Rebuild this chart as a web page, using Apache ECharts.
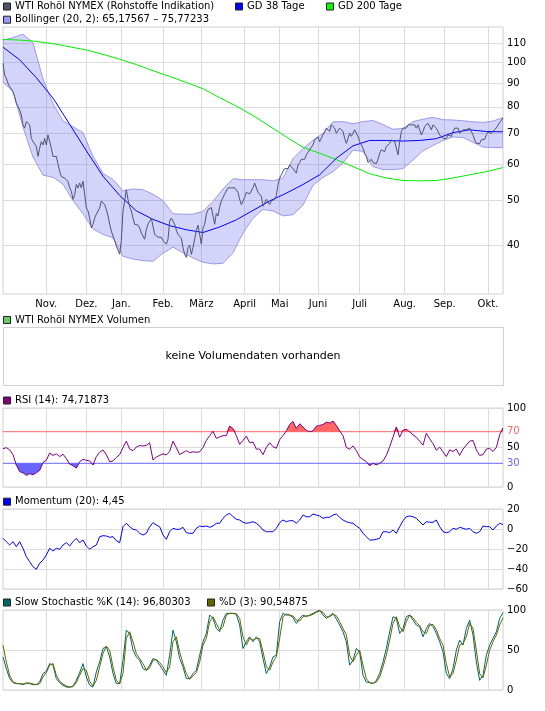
<!DOCTYPE html>
<html><head><meta charset="utf-8">
<script src="https://cdn.jsdelivr.net/npm/echarts@6/dist/echarts.min.js"></script>
<style>html,body{margin:0;padding:0;background:#fff}#c{width:545px;height:711px}</style>
</head><body><div id="c"></div>
<script>
// ---- data (x = trading-day index 0..300) ----
const monthNames = ["Nov.","Dez.","Jan.","Feb.","März","April","Mai","Juni","Juli","Aug.","Sep.","Okt."];
const monthStartDays = [26,50,71,96,119,145,166,189,214,241,265,291];
const priceTicks = [40,50,60,70,80,90,100,110];
const rsiTicks = [0,30,50,70,100];
const rsiLevels = [70,30];

// daily price (index 0..300)
const price = [
99.5,93.9,92.4,90.0,88.5,87.5,86.3,84.2,81.5,80.8,
78.8,76.8,73.1,71.9,74.3,74.9,73.1,68.3,67.2,67.8,
65.6,62.4,65.0,67.2,66.1,68.3,66.1,69.5,69.5,65.0,
62.4,61.9,62.4,61.9,57.9,56.4,56.9,56.0,55.5,55.0,
53.3,52.4,50.3,51.5,54.2,53.3,54.6,53.3,55.1,54.6,
48.2,47.5,45.8,43.6,44.4,45.8,46.7,46.3,48.2,49.9,
50.3,49.0,47.8,46.3,44.4,42.9,42.5,40.9,39.8,40.0,
38.2,40.9,47.5,49.9,52.8,50.3,48.5,47.5,45.8,44.4,
44.7,44.2,43.6,42.5,42.2,41.2,43.3,44.4,45.1,45.8,
45.5,42.2,42.5,41.6,41.8,41.6,40.9,40.6,40.2,41.2,
45.1,45.8,46.0,44.4,43.1,42.2,42.0,41.4,39.5,38.2,
37.6,39.5,40.0,38.2,39.5,41.2,43.0,44.2,44.4,40.2,
43.6,44.4,46.7,47.8,48.2,48.3,46.3,44.4,46.9,46.3,
48.5,49.9,50.8,51.7,52.1,53.3,53.7,53.3,53.7,53.3,
53.7,52.1,50.3,49.0,48.6,50.8,52.1,52.4,51.7,52.1,
53.3,54.6,55.0,52.1,51.7,51.1,48.6,48.2,50.3,50.8,
49.0,49.9,49.5,50.3,51.3,54.2,56.0,56.9,57.9,58.7,
59.0,58.7,59.8,59.3,58.7,58.4,57.4,59.8,60.5,61.5,
61.0,61.5,62.9,63.4,64.5,65.0,66.1,67.8,68.3,68.8,
67.2,67.8,69.5,70.0,71.9,72.5,70.7,73.1,73.3,71.9,
70.1,70.7,71.9,72.5,70.7,68.3,66.6,68.3,70.1,69.0,
70.1,71.3,70.7,69.0,67.2,66.1,65.0,63.4,62.4,60.5,
61.0,61.5,60.5,60.0,60.2,61.5,63.4,64.5,65.0,63.9,
65.6,66.1,66.6,67.8,68.3,67.2,67.8,62.9,67.2,70.7,
71.9,71.3,71.9,73.1,73.7,73.1,72.5,73.1,71.9,73.1,
71.3,69.5,70.7,72.5,73.1,73.7,73.1,71.3,73.1,73.7,
71.9,70.7,69.5,69.0,68.3,68.0,68.3,69.5,70.0,69.0,
70.7,71.9,72.5,71.9,70.1,70.7,71.3,70.7,71.3,70.7,
71.9,71.3,69.5,67.8,66.6,67.2,66.6,67.8,67.2,68.0,
69.5,70.5,70.4,70.0,70.8,71.2,72.0,73.0,74.0,74.8,
75.7];

// moving averages, one value every 10 days
const maStep = 10;
const gd38 = [107.9,101.3,92.6,83.6,73.3,64.2,56.5,51.3,47.5,45.5,44.1,43.2,42.6,43.8,45.4,47.6,49.9,51.9,54.2,56.9,61.8,65.8,67.6,67.6,67.4,67.6,68.2,70.3,71.3,70.7,70.6];
const gd200 = [112.2,111.8,111.1,109.8,108.1,106.4,104.1,101.6,98.9,95.9,93.2,90.4,87.6,83.8,80.3,76.6,72.6,68.8,65.3,63.4,61.4,59.3,57.2,56.0,55.3,55.2,55.3,56.0,56.9,57.8,59.0];

// Bollinger bands, one value every 6 days
const bollStep = 6;
const bollUpper = [
111.8,113.2,115.2,110.3,92.0,81.3,74.5,72.4,70.3,62.4,
57.3,55.6,52.5,53.0,52.8,51.6,50.0,46.8,46.7,46.7,
47.4,49.8,53.0,55.8,55.5,55.5,55.5,55.2,56.0,61.7,
64.9,67.7,70.0,74.2,74.3,73.5,74.3,74.7,73.2,71.5,
71.8,74.3,75.2,75.9,75.0,74.9,74.6,74.2,74.0,74.5,
75.8];
const bollLower = [
90.6,86.4,72.3,62.2,56.8,56.2,54.3,50.0,46.8,43.4,
42.2,41.5,37.8,37.3,37.0,36.9,38.4,39.6,38.5,37.5,
36.7,36.4,36.5,38.5,42.5,45.8,47.8,47.5,46.3,46.6,
48.9,54.0,56.2,57.8,60.4,64.4,64.0,59.3,58.4,58.4,
58.7,61.3,64.2,65.9,67.6,68.8,68.6,67.0,65.4,65.2,
65.2];

// indicators, one value every 2 days
const indStep = 2;
const rsi = [
48.5,49.8,47,41,28,19.5,18,14.8,16.9,15.6,
18,21,31,33.8,43,40,42,38.5,41.5,36,
29,27,24,32,35,33.8,33,28,38.5,44,
47,41,32,33,37.5,41,50,58,48,46,
50.6,52.5,51.9,52.7,56,34,38,40,42,40.5,
45,58,50,41,43.5,46,43.5,44.5,44,44.5,
50,59,65,70.5,61.5,63.5,65,65,77.2,74,
65,54,59,64.5,56,57,48,48,41,50,
56,51,49,60,65,71,79,83,74,80,
76,71.7,70,71,77,78,79,82,81,83.5,
78,71,65,50,48,52,46,38,35,32,
27,30,28,30,33,40,51,63,76,63,
72,73,70,66,63,58,53,68,61,55,
46.5,50.5,44.5,38.5,47,45,48,40,48,53,
58,59,47,40,41,48,49,45,50,66,
74.7];
const momentum = [
-9.3,-12.7,-16,-12.7,-17.7,-12.7,-19.3,-27.7,-32.7,-37.7,
-40.3,-34.3,-31,-26,-19.3,-22,-19.3,-20.3,-16,-13.7,
-17,-12.7,-9.3,-13.7,-11,-17,-20.3,-17.7,-16,-7.7,
-6.7,-7,-8.3,-7.7,-11.7,-13.7,2.3,5.7,2.3,-0.3,
-1,-4.3,-6,-4.3,2.3,6.3,4,2.3,-6,-10.3,
-2.7,0.7,-0.3,-0.3,1.7,-3.7,-4.3,-4.3,0.7,3,
2.3,3,1.7,3,5.7,5.7,10.7,14,15.7,12.3,
9.7,9,6.7,5.7,6.3,7.3,5.7,3,-1,-2.7,
-2.7,-2.7,0.7,6.3,9,7.3,8.3,8.3,5.7,9,
14,12.3,12.3,15,14,13,10.7,11.7,11.7,14,
15,11.7,9,7.3,6.3,5.7,3,0.7,-4.3,-7.7,
-11,-11,-10.3,-9.3,-2.7,-2.7,-3.7,-1,-4.3,2.3,
8.3,12.3,13,12.3,10.7,7.3,4,7.3,6.7,6.7,
9,2.3,-2.7,-3.7,-2.7,0.7,-0.3,1.7,0.7,-0.3,
0.7,-2.7,-4.3,-2.7,3,2.3,2.3,-1,3,5.7,
4.45];
const stochK = [
41.4,26.8,14.2,9.2,7.9,7.9,6.7,9.2,7.9,6.7,
6.7,10,20.5,23.4,33,31,14.2,9.2,5.9,3.8,
3.3,5,12.1,21.8,33,16.3,5.9,3.8,22.6,35.1,
51.9,54,41.4,20.5,7.9,7.9,37.2,74.9,70.7,49.8,
41.4,37.2,26.8,24.7,31,39.3,37.2,31,24.7,18.4,
43.5,74.9,60.3,39.3,28.9,14.2,14.2,20.5,24.7,43.5,
60.3,70.7,93.7,89.5,77,72.8,87.4,95.8,95.8,95.8,
94.6,81.2,51.9,60.3,66.5,60.3,66.5,60.3,39.3,20.5,
28.9,41.4,43.5,85.4,95.8,93.7,93.7,90.4,83.3,89.5,
93.7,91.6,93.7,95.8,97.9,100,93.7,89.5,92.9,95.8,
88.7,81.2,72.8,60.3,31,37.2,51.9,47.7,18.4,10,
9.2,7.9,12.1,20.5,35.1,51.9,72.8,91.6,89.5,70.7,
77,91.6,93.7,87.4,81.2,79.1,66.5,77,83.3,79.1,
70.7,60.3,47.7,20.5,14.2,26.8,49.8,62.3,56.1,77,
87.4,68.6,35.1,12.1,18.4,43.5,56.1,64.4,72.8,89.5,
96.8];
const stochD = [
56,35,18.4,10,8.4,7.9,7.5,7.9,8.8,7.5,
6.7,7.9,16.3,21.8,31,33,18.4,10.9,7.5,5,
3.8,4.2,9.2,18.4,26.8,24.7,10.9,5,12.1,28.9,
45.6,54.8,49.8,28.9,12.1,7.9,20.5,64.4,72.8,60.3,
45.6,39.3,33,24.7,27.6,37.2,38.5,34.3,28.9,21.8,
28.9,60.3,66.5,47.7,33,20.5,13.4,17.6,21.8,35.1,
56.1,64.4,85.4,91.6,83.3,74.9,79.1,93.7,95.8,95.8,
95.4,89.5,66.5,56.1,64.4,62.3,64.4,64.4,47.7,28.9,
24.7,35.1,41.4,64.4,91.6,95,93.7,92.5,87.4,86.2,
91.6,92.9,92.9,94.6,97.1,98.7,97.1,91.6,91.2,94.6,
92.9,85.4,77,68.6,43.5,35.1,43.5,49.8,31,14.2,
9.2,8.4,10,16.3,28.9,43.5,62.3,83.3,91.6,79.1,
72.8,85.4,93.7,90.4,84.5,80.3,72.8,70.7,81.2,82,
74.9,64.4,56.1,33,16.3,20.5,37.2,56.1,58.2,66.5,
83.3,77,49.8,20.5,15.1,31,49.8,60.3,68.6,81.2,
90.5];

// ---- chart ----
const FONT = 'DejaVu Sans';
const GRID_C = '#dcdcdc';
const X_MAX = price.length - 1;
const pairs = (arr, step) => arr.map((v, k) => [k * step, v]);
const chart = echarts.init(document.getElementById('c'), null, {renderer: 'canvas'});

const grids = [
  {left: 3, top: 27, width: 500, height: 267},
  {left: 3, top: 408, width: 500, height: 79},
  {left: 3, top: 509, width: 500, height: 80},
  {left: 3, top: 610, width: 500, height: 80}
].map(g => Object.assign(g, {show: true, borderColor: '#d0d0d0', borderWidth: 1, backgroundColor: '#fff'}));

const xAxes = grids.map((g, i) => ({
  type: 'value', gridIndex: i, min: 0, max: X_MAX,
  axisLine: {show: false},
  axisTick: {show: false, customValues: monthStartDays},
  splitLine: {show: true, lineStyle: {color: GRID_C, width: 1}},
  axisLabel: i === 0 ? {
    show: true, customValues: monthStartDays, margin: 5,
    fontFamily: FONT, fontSize: 10, color: '#000',
    formatter: v => monthNames[monthStartDays.indexOf(v)] || ''
  } : {show: false}
}));

const labelBase = {fontFamily: FONT, fontSize: 10, color: '#000', margin: 4};
const minusFmt = v => v < 0 ? '\u2212' + Math.abs(v) : String(v);
const yAxes = [
  {type: 'log', gridIndex: 0, min: 31.3, max: 119.4, position: 'right',
   axisLine: {show: false}, axisTick: {show: false, customValues: priceTicks},
   axisLabel: Object.assign({customValues: priceTicks}, labelBase),
   splitLine: {show: true, lineStyle: {color: GRID_C}}},
  {type: 'value', gridIndex: 1, min: 0, max: 100, position: 'right',
   axisLine: {show: false}, axisTick: {show: false, customValues: [0, 50, 100]},
   axisLabel: Object.assign({}, labelBase, {customValues: rsiTicks,
     color: v => (+v === 70 ? '#ff6666' : (+v === 30 ? '#6666ff' : '#000'))}),
   splitLine: {show: true, lineStyle: {color: GRID_C}}},
  {type: 'value', gridIndex: 2, min: -60, max: 20, interval: 20, position: 'right',
   axisLine: {show: false}, axisTick: {show: false},
   axisLabel: Object.assign({formatter: minusFmt}, labelBase),
   splitLine: {show: true, lineStyle: {color: GRID_C}}},
  {type: 'value', gridIndex: 3, min: 0, max: 100, interval: 50, position: 'right',
   axisLine: {show: false}, axisTick: {show: false},
   axisLabel: labelBase,
   splitLine: {show: true, lineStyle: {color: GRID_C}}}
];

const line = (data, color, xi, extra) => Object.assign({
  type: 'line', data, xAxisIndex: xi, yAxisIndex: xi, showSymbol: false, symbol: 'none',
  lineStyle: {color, width: 1}, itemStyle: {color}, silent: true
}, extra || {});

// Bollinger band: one polygon between upper and lower, positioned by the axis scales
const bandSeries = {
  type: 'custom', xAxisIndex: 0, yAxisIndex: 0, z: 1, silent: true, clip: true,
  data: bollUpper.map((u, k) => [k * bollStep, u, bollLower[k]]),
  encode: {x: 0, y: [1, 2]},
  renderItem: (params, api) => {
    if (params.dataIndex !== 0) return null;
    const pts = [];
    for (let k = 0; k < bollUpper.length; k++) pts.push(api.coord([k * bollStep, bollUpper[k]]));
    for (let k = bollLower.length - 1; k >= 0; k--) pts.push(api.coord([k * bollStep, bollLower[k]]));
    return {type: 'polygon', shape: {points: pts},
      style: {fill: 'rgba(102,102,238,0.28)', stroke: '#9999ee', lineWidth: 1}};
  }
};

const series = [
  bandSeries,
  line(pairs(gd200, maStep), '#00ee00', 0, {z: 2}),
  line(pairs(gd38, maStep), '#0000ff', 0, {z: 3}),
  line(pairs(price, 1), '#4b5570', 0, {z: 4}),
  // RSI fills beyond the 70 / 30 levels
  line(pairs(rsi.map(v => Math.max(v, rsiLevels[0])), indStep), '#ff6666', 1,
    {lineStyle: {width: 0, opacity: 0}, areaStyle: {color: '#ff6666', opacity: 1, origin: rsiLevels[0]}, z: 1}),
  line(pairs(rsi.map(v => Math.min(v, rsiLevels[1])), indStep), '#6666ff', 1,
    {lineStyle: {width: 0, opacity: 0}, areaStyle: {color: '#6666ff', opacity: 1, origin: rsiLevels[1]}, z: 1}),
  // RSI level lines
  line([[0, rsiLevels[0]], [X_MAX, rsiLevels[0]]], '#ff6666', 1, {z: 2}),
  line([[0, rsiLevels[1]], [X_MAX, rsiLevels[1]]], '#6666ff', 1, {z: 2}),
  line(pairs(rsi, indStep), '#800080', 1, {z: 3}),
  // Momentum
  line(pairs(momentum, indStep), '#0000ff', 2),
  // Stochastic
  line(pairs(stochK, indStep), '#006666', 3, {z: 2}),
  line(pairs(stochD, indStep), '#666600', 3, {z: 3})
];

function legendItem(x, y, color, text) {
  return [
    {type: 'rect', shape: {x: x + 0.5, y: y - 3.5, width: 7, height: 7},
     style: {fill: color, stroke: '#222', lineWidth: 1}},
    {type: 'text', x: x + 12, y: y, style: {text, fill: '#000', font: '10px "DejaVu Sans"', textVerticalAlign: 'middle', verticalAlign: 'middle'}}
  ];
}

const graphics = [].concat(
  legendItem(3, 6.5, '#4b5570', 'WTI Rohöl NYMEX (Rohstoffe Indikation)'),
  legendItem(235, 6.5, '#0000ff', 'GD 38 Tage'),
  legendItem(326, 6.5, '#00ff00', 'GD 200 Tage'),
  legendItem(3, 19.7, '#9999ff', 'Bollinger (20, 2): 65,17567 \u2013 75,77233'),
  legendItem(3, 320, '#66cc66', 'WTI Rohöl NYMEX Volumen'),
  legendItem(3, 400.5, '#800080', 'RSI (14): 74,71873'),
  legendItem(3, 501.7, '#0000ff', 'Momentum (20): 4,45'),
  legendItem(3, 602.5, '#006666', 'Slow Stochastic %K (14): 96,80303'),
  legendItem(207, 602.5, '#666600', '%D (3): 90,54875'),
  [
    {type: 'rect', shape: {x: 3.5, y: 327.5, width: 500, height: 58},
     style: {fill: '#fff', stroke: '#d0d0d0', lineWidth: 1}},
    {type: 'text', x: 253, y: 356, style: {text: 'keine Volumendaten vorhanden', fill: '#000',
      font: '11px "DejaVu Sans"', textAlign: 'center', align: 'center', textVerticalAlign: 'middle', verticalAlign: 'middle'}}
  ]
);

chart.setOption({
  animation: false,
  backgroundColor: '#fff',
  textStyle: {fontFamily: FONT},
  grid: grids,
  xAxis: xAxes,
  yAxis: yAxes,
  series,
  graphic: {elements: graphics}
});
</script>
</body></html>
